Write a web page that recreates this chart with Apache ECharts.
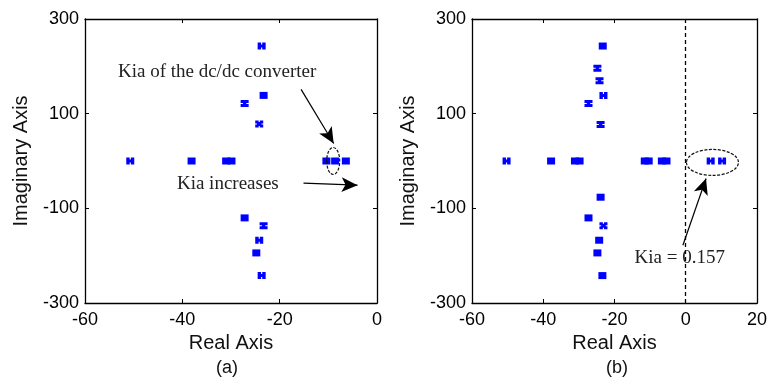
<!DOCTYPE html>
<html style="height: 100%">
<head>
<meta charset="utf-8">
<script src="https://cdn.jsdelivr.net/npm/echarts@6/dist/echarts.min.js"></script>
</head>
<body style="height: 100%; margin: 0; background: #fff">
<div id="container" style="width: 770px; height: 379px"></div>
<script type="text/javascript">
// roots, [real, imag]
var leftSquare = [[-23.3, 138.6], [-38.1, 0], [-31.0, 0], [-29.9, 0], [-10.4, 0], [-8.6, 0], [-6.4, 0], [-27.2, -120.2], [-24.8, -194.2]];
var leftH = [[-23.7, 242.9], [-50.7, 0], [-24.2, -167.4], [-23.7, -242.1]];
var leftI = [[-27.2, 121.6], [-23.3, -137]];
var leftX = [[-24.2, 78]];

var rightSquare = [[-23.3, 242.9], [-37.8, 0], [-31.1, 0], [-29.8, 0], [-11.5, 0], [-10.4, 0], [-6.7, 0], [-5.4, 0], [-23.9, -76.5], [-27.3, -120.2], [-24.3, -167.4], [-24.8, -194.2], [-23.4, -242.1]];
var rightH = [[-23.1, 138.6], [-50.3, 0], [7.0, 0], [10.2, 0]];
var rightI = [[-24.8, 195.7], [-24.2, 169.5], [-27.3, 121.6], [-23.9, 77.3]];
var rightX = [[-23.1, -137]];

var yTicks = [-300, -100, 100, 300];

// annotations in data coords
var leftEllipse = [[-9.0, 0]];
var rightEllipse = [[7.5, -3]];
var leftArrows = [[[-15.6, 151.3], [-8.9, 37.1]], [[-15.1, -46.9], [-4.0, -51.1]]];
var rightArrows = [[[-0.8, -178], [5.7, -37]]];
var leftNotes = [[-32.85, 188.5, 'Kia of the dc/dc converter'], [-30.65, -48.3, 'Kia increases']];
var rightNotes = [[-1.7, -204, 'Kia = 0.157']];

var blue = '#0000ff';
var symH = 'path://M0,0L3,0L3,2L4,2L4,0L7,0L7,7L4,7L4,5L3,5L3,7L0,7Z';
var symI = 'path://M0,0L7,0L7,3L5,3L5,4L7,4L7,7L0,7L0,4L2,4L2,3L0,3Z';
var symX = 'path://M0,0L3,0L3,1.5L4,1.5L4,0L7,0L7,3L5.5,3L5.5,4L7,4L7,7L4,7L4,5.5L3,5.5L3,7L0,7L0,4L1.5,4L1.5,3L0,3Z';

var dom = document.getElementById('container');
var myChart = echarts.init(dom);

var grids = [
    {left: 85, top: 19, width: 292, height: 284},
    {left: 472, top: 19, width: 292, height: 284}
];
var xRanges = [[-60, 0], [-60, 20]];

var tickFont = {fontFamily: 'Liberation Sans', fontSize: 18, color: '#000'};
var xAxes = [], yAxes = [];
for (var g = 0; g < 2; g++) {
    xAxes.push({
        gridIndex: g, type: 'value', min: xRanges[g][0], max: xRanges[g][1], interval: 20,
        position: 'bottom',
        name: 'Real Axis', nameLocation: 'middle', nameGap: 30,
        nameTextStyle: {fontFamily: 'Liberation Sans', fontSize: 20, color: '#111'},
        axisLine: {onZero: false, lineStyle: {color: '#000', width: 1.3}},
        axisTick: {inside: true, length: 4, lineStyle: {color: '#000'}},
        axisLabel: Object.assign({margin: 8}, tickFont),
        splitLine: {show: false}
    });
    xAxes.push({
        gridIndex: g, type: 'value', min: xRanges[g][0], max: xRanges[g][1], interval: 20,
        position: 'top',
        axisLine: {onZero: false, lineStyle: {color: '#000', width: 1.3}},
        axisTick: {inside: true, length: 4, lineStyle: {color: '#000'}},
        axisLabel: {show: false}, splitLine: {show: false}
    });
    yAxes.push({
        gridIndex: g, type: 'value', min: -300, max: 300, interval: 200,
        position: 'left',
        name: 'Imaginary Axis', nameLocation: 'middle', nameGap: 54,
        nameTextStyle: {fontFamily: 'Liberation Sans', fontSize: 20, color: '#111'},
        axisLine: {onZero: false, lineStyle: {color: '#000', width: 1.3}},
        axisTick: {inside: true, length: 4, lineStyle: {color: '#000'}},
        axisLabel: Object.assign({margin: 6, formatter: function (v) { return yTicks.indexOf(v) > -1 ? v : ''; }}, tickFont),
        splitLine: {show: false}
    });
    yAxes.push({
        gridIndex: g, type: 'value', min: -300, max: 300, interval: 200,
        position: 'right',
        axisLine: {onZero: false, lineStyle: {color: '#000', width: 1.3}},
        axisTick: {inside: true, length: 4, lineStyle: {color: '#000'}},
        axisLabel: {show: false}, splitLine: {show: false}
    });
}

function scatter(g, data, symbol) {
    return {
        type: 'scatter', xAxisIndex: g * 2, yAxisIndex: g * 2, data: data,
        symbol: symbol, symbolSize: [8, 7], itemStyle: {color: blue, opacity: 1},
        silent: true, z: 3
    };
}

function ellipseSeries(g, data, rx, ry) {
    return {
        type: 'custom', xAxisIndex: g * 2, yAxisIndex: g * 2, data: data, silent: true, z: 4,
        renderItem: function (params, api) {
            var c = api.coord([api.value(0), api.value(1)]);
            return {
                type: 'path',
                shape: {
                    pathData: 'M0,1A1,1 0 1,0 2,1A1,1 0 1,0 0,1Z', layout: 'cover',
                    x: c[0] - rx, y: c[1] - ry, width: rx * 2, height: ry * 2
                },
                style: {fill: 'none', stroke: '#111', lineWidth: 1.2, lineDash: [3, 1.5]}
            };
        }
    };
}

function noteSeries(g, data) {
    return {
        type: 'custom', xAxisIndex: g * 2, yAxisIndex: g * 2, data: data, silent: true, z: 5,
        renderItem: function (params, api) {
            var c = api.coord([api.value(0), api.value(1)]);
            return {
                type: 'text', x: c[0], y: c[1],
                style: {
                    text: data[params.dataIndex][2], fill: '#222',
                    font: '19px "Liberation Serif"', align: 'center', verticalAlign: 'middle'
                }
            };
        }
    };
}

function arrowSeries(g, arrows) {
    var lines = arrows.map(function (a) {
        return [{coord: a[0]}, {coord: a[1]}];
    });
    return {
        type: 'scatter', xAxisIndex: g * 2, yAxisIndex: g * 2, data: [], silent: true,
        markLine: {
            silent: true, animation: false, symbol: ['none', 'arrow'], symbolSize: [11, 16],
            label: {show: false},
            lineStyle: {color: '#000', width: 1.2, type: 'solid'},
            emphasis: {disabled: true},
            data: lines
        }
    };
}

var option = {
    animation: false,
    backgroundColor: '#fff',
    grid: grids,
    xAxis: xAxes,
    yAxis: yAxes,
    graphic: [
        {type: 'text', left: 216, top: 359, style: {text: '(a)', font: '18px "Liberation Sans"', fill: '#111'}},
        {type: 'text', left: 606, top: 359, style: {text: '(b)', font: '18px "Liberation Sans"', fill: '#111'}}
    ],
    series: [
        scatter(0, leftSquare, 'rect'),
        scatter(0, leftH, symH),
        scatter(0, leftI, symI),
        scatter(0, leftX, symX),
        scatter(1, rightSquare, 'rect'),
        scatter(1, rightH, symH),
        scatter(1, rightI, symI),
        scatter(1, rightX, symX),
        ellipseSeries(0, leftEllipse, 6.5, 13.5),
        ellipseSeries(1, rightEllipse, 26, 13),
        noteSeries(0, leftNotes),
        noteSeries(1, rightNotes),
        arrowSeries(0, leftArrows),
        arrowSeries(1, rightArrows),
        {
            type: 'scatter', xAxisIndex: 2, yAxisIndex: 2, data: [], silent: true,
            markLine: {
                silent: true, animation: false, symbol: ['none', 'none'], label: {show: false},
                lineStyle: {color: '#000', width: 1.3, type: [4, 3]},
                data: [{xAxis: 0}]
            }
        }
    ]
};
myChart.setOption(option);
</script>
</body>
</html>
